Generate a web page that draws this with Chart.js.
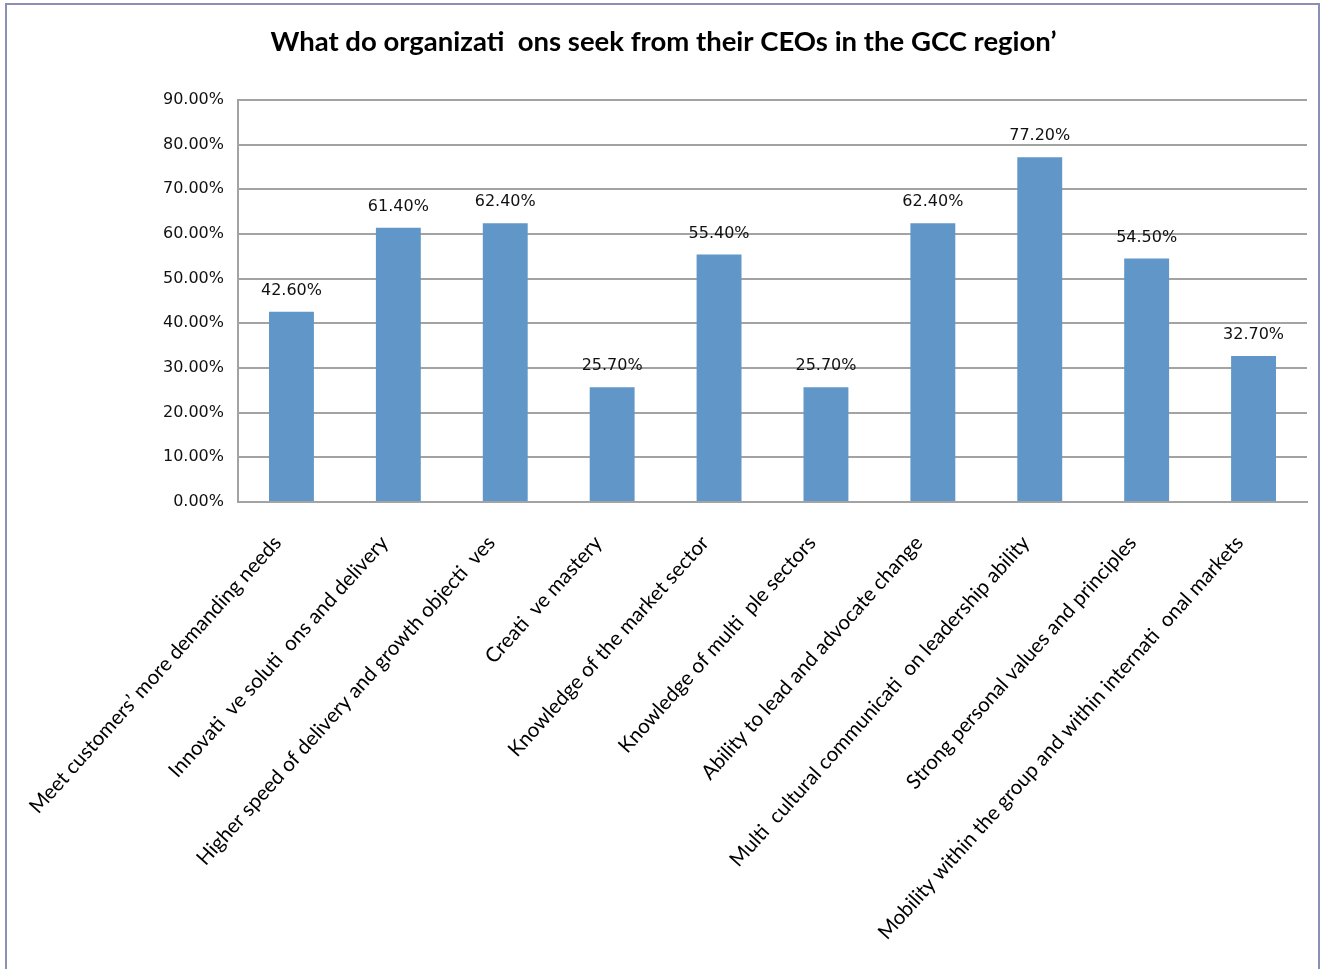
<!DOCTYPE html>
<html>
<head>
<meta charset="utf-8">
<title>CEO expectations in the GCC region</title>
<script src="https://cdn.jsdelivr.net/npm/chart.js@4/dist/chart.umd.min.js"></script>
<style>
  html, body { margin: 0; padding: 0; background: #fff; }
  #wrap { position: relative; width: 1329px; height: 969px; overflow: hidden; }
  #frame {
    position: absolute; left: 5px; top: 3px; width: 1315px; height: 1000px;
    border: 2px solid #8b8fb6; border-bottom: none; box-sizing: border-box;
  }
  #chart { position: absolute; left: 0; top: 0; }
</style>
</head>
<body>
<div id="wrap">
  <div id="frame"></div>
  <canvas id="chart" width="1329" height="969"></canvas>
</div>
<script>
const titleText = 'What do organizati  ons seek from their CEOs in the GCC region\u2019';

const categories = [
  'Meet customers\u2019 more demanding needs',
  'Innovati  ve soluti  ons and delivery',
  'Higher speed of delivery and growth objecti  ves',
  'Creati  ve mastery',
  'Knowledge of the market sector',
  'Knowledge of multi  ple sectors',
  'Ability to lead and advocate change',
  'Multi  cultural communicati  on leadership ability',
  'Strong personal values and principles',
  'Mobility within the group and within internati  onal markets',
];

// share of respondents, in percent
const shares = [42.6, 61.4, 62.4, 25.7, 55.4, 25.7, 62.4, 77.2, 54.5, 32.7];

const yMin = 0;
const yMax = 90;
const yStep = 10;

const pct = v => Number(v).toFixed(2) + '%';

// writes the value above each bar
const valueLabels = {
  id: 'valueLabels',
  afterDatasetsDraw(chart) {
    const ctx = chart.ctx;
    const meta = chart.getDatasetMeta(0);
    ctx.save();
    ctx.font = '16px "DejaVu Sans"';
    ctx.fillStyle = '#111';
    ctx.textAlign = 'center';
    ctx.textBaseline = 'middle';
    meta.data.forEach((bar, i) => {
      ctx.fillText(pct(shares[i]), bar.x, bar.y - 21);
    });
    ctx.restore();
  },
};

const gridGrey = '#a3a3a3';

new Chart(document.getElementById('chart').getContext('2d'), {
  type: 'bar',
  data: {
    labels: categories,
    datasets: [{
      data: shares,
      backgroundColor: '#6096c8',
      borderWidth: 0,
      barPercentage: 1,
      categoryPercentage: 0.42,
    }],
  },
  options: {
    responsive: false,
    animation: false,
    layout: { padding: { left: 20, right: 22, top: 0, bottom: 0 } },
    plugins: {
      legend: { display: false },
      tooltip: { enabled: false },
      title: {
        display: true,
        text: titleText,
        color: '#000',
        font: { family: 'Lato', size: 27.5, weight: 'bold', lineHeight: 1.2 },
        padding: { top: 26, bottom: 41 },
      },
    },
    scales: {
      x: {
        grid: { display: false, drawTicks: false },
        border: { color: gridGrey, width: 2 },
        ticks: {
          autoSkip: false,
          minRotation: 48,
          maxRotation: 48,
          padding: 29,
          labelOffset: -14,
          color: '#000',
          font: { family: 'Lato', size: 20.5 },
        },
        afterFit(scale) { scale.height = 467; },
      },
      y: {
        min: yMin,
        max: yMax,
        grid: { color: gridGrey, lineWidth: 2, drawTicks: false },
        border: { color: gridGrey, width: 2 },
        ticks: {
          stepSize: yStep,
          padding: 14,
          color: '#111',
          font: { family: 'DejaVu Sans', size: 16 },
          callback: v => pct(v),
        },
        afterFit(scale) { scale.width = 218; },
      },
    },
  },
  plugins: [valueLabels],
});
</script>
</body>
</html>
